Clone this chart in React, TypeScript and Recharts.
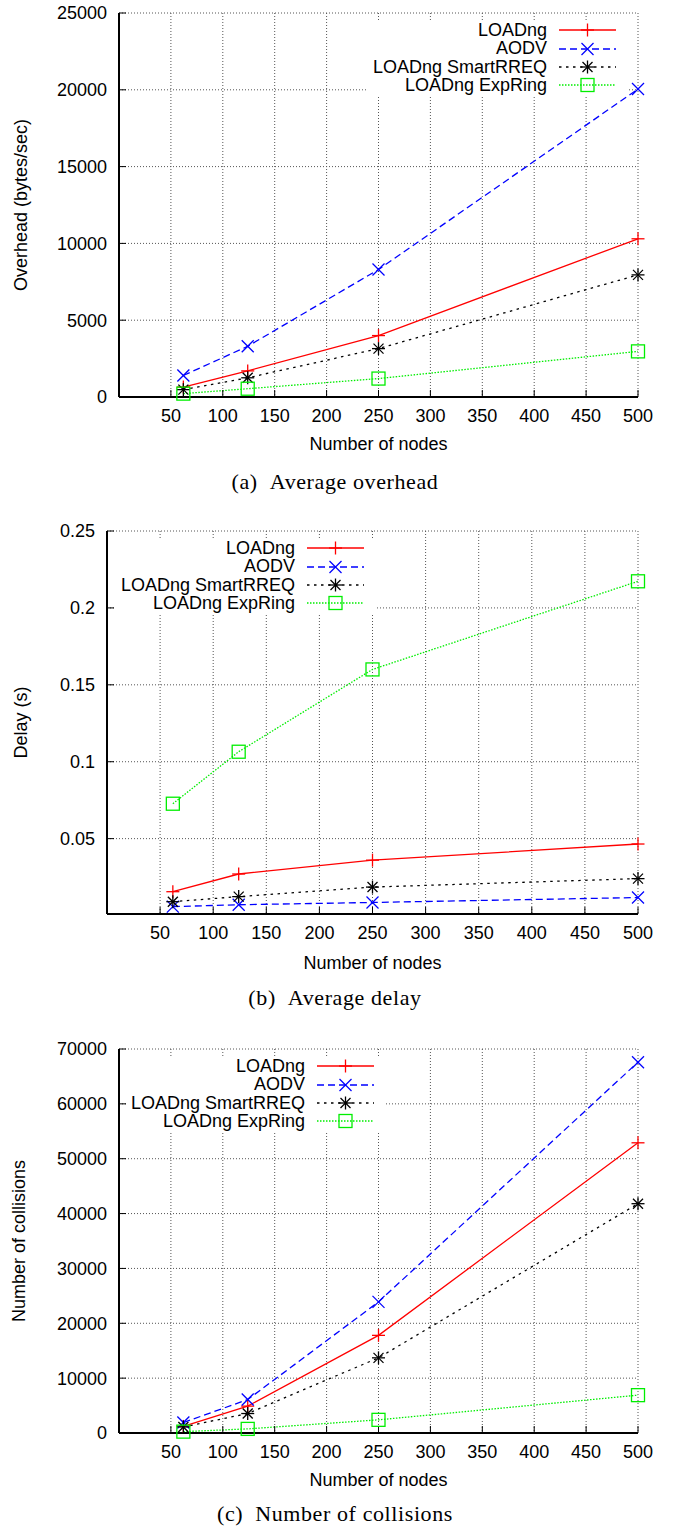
import React from 'react'
import { LineChart, Line, XAxis, YAxis, CartesianGrid, Legend } from 'recharts'

// x positions (number of nodes) of the measured points
const nodes = [62, 124, 250, 500]
const xTicks = [50, 100, 150, 200, 250, 300, 350, 400, 450, 500]

// (a) average overhead, bytes/sec
const overheadLoadng = [650, 1700, 4000, 10300]
const overheadAodv = [1400, 3300, 8300, 20050]
const overheadSmart = [480, 1250, 3150, 7950]
const overheadExpRing = [220, 540, 1200, 2970]
const overheadTicks = [0, 5000, 10000, 15000, 20000, 25000]

// (b) average delay, s
const delayLoadng = [0.0155, 0.027, 0.036, 0.0465]
const delayAodv = [0.0058, 0.007, 0.0085, 0.0117]
const delaySmart = [0.009, 0.0123, 0.0185, 0.024]
const delayExpRing = [0.0727, 0.1065, 0.16, 0.2173]
const delayTicks = [0.05, 0.1, 0.15, 0.2, 0.25]

// (c) number of collisions
const collLoadng = [1200, 4900, 17800, 52900]
const collAodv = [1900, 6100, 23900, 67600]
const collSmart = [1100, 3550, 13700, 41800]
const collExpRing = [250, 750, 2400, 6900]
const collTicks = [0, 10000, 20000, 30000, 40000, 50000, 60000, 70000]

const SANS = '"Liberation Sans", Arial, sans-serif'
const SERIF = '"Liberation Serif", "Times New Roman", serif'

type Kind = 'plus' | 'cross' | 'star' | 'square'

const SERIES = [
  { key: 'loadng', name: 'LOADng', color: '#ff0000', dash: undefined as string | undefined, kind: 'plus' as Kind },
  { key: 'aodv', name: 'AODV', color: '#0000ff', dash: '7 4', kind: 'cross' as Kind },
  { key: 'smart', name: 'LOADng SmartRREQ', color: '#000000', dash: '2.5 4.5', kind: 'star' as Kind },
  { key: 'exp', name: 'LOADng ExpRing', color: '#00ee00', dash: '1.5 1.5', kind: 'square' as Kind },
]

function buildRows(a: number[], b: number[], c: number[], d: number[]) {
  return nodes.map((n, i) => ({ nodes: n, loadng: a[i], aodv: b[i], smart: c[i], exp: d[i] }))
}

const overheadData = buildRows(overheadLoadng, overheadAodv, overheadSmart, overheadExpRing)
const delayData = buildRows(delayLoadng, delayAodv, delaySmart, delayExpRing)
const collData = buildRows(collLoadng, collAodv, collSmart, collExpRing)

function Marker({ cx, cy, kind, color }: { cx: number; cy: number; kind: Kind; color: string }) {
  if (cx == null || cy == null) return <g />
  const s = 6.5
  const d = 6
  if (kind === 'plus') {
    return (
      <g stroke={color} strokeWidth={1.3}>
        <line x1={cx - s} y1={cy} x2={cx + s} y2={cy} />
        <line x1={cx} y1={cy - s} x2={cx} y2={cy + s} />
      </g>
    )
  }
  if (kind === 'cross') {
    return (
      <g stroke={color} strokeWidth={1.3}>
        <line x1={cx - d} y1={cy - d} x2={cx + d} y2={cy + d} />
        <line x1={cx - d} y1={cy + d} x2={cx + d} y2={cy - d} />
      </g>
    )
  }
  if (kind === 'star') {
    return (
      <g stroke={color} strokeWidth={1.3}>
        <line x1={cx - s} y1={cy} x2={cx + s} y2={cy} />
        <line x1={cx} y1={cy - s} x2={cx} y2={cy + s} />
        <line x1={cx - 5} y1={cy - 5} x2={cx + 5} y2={cy + 5} />
        <line x1={cx - 5} y1={cy + 5} x2={cx + 5} y2={cy - 5} />
      </g>
    )
  }
  return <rect x={cx - s} y={cy - s} width={2 * s} height={2 * s} fill="none" stroke={color} strokeWidth={1.3} />
}

function KeyBox() {
  return (
    <div style={{ background: '#fff', padding: '0 11px 0 2px', fontFamily: SANS, fontSize: 18, color: '#000' }}>
      {SERIES.map(s => (
        <div key={s.key} style={{ display: 'flex', alignItems: 'center', height: 18.4 }}>
          <span style={{ width: 177, textAlign: 'right', lineHeight: '18.4px', whiteSpace: 'nowrap' }}>{s.name}</span>
          <svg width={57} height={18} style={{ marginLeft: 12, display: 'block' }}>
            <line x1={0} y1={9} x2={57} y2={9} stroke={s.color} strokeWidth={1.3} strokeDasharray={s.dash} />
            <Marker cx={28.5} cy={9} kind={s.kind} color={s.color} />
          </svg>
        </div>
      ))}
    </div>
  )
}

interface PanelProps {
  top: number
  height: number
  plotTop: number
  plotLeft: number
  plotBottom: number
  data: any[]
  yDomain: [number, number]
  yTicks: number[]
  yTitle: string
  yTitleX: number
  xTitleOffset: number
  keyLeft: number
  keyTop: number
}

function Panel(p: PanelProps) {
  const tickStyle = { fill: '#000', fontSize: 18, fontFamily: SANS }
  const border = { stroke: '#000', strokeWidth: 2 }
  const tl = { stroke: '#000', strokeWidth: 1 }
  return (
    <div style={{ position: 'absolute', left: 0, top: p.top }}>
      <LineChart
        width={674}
        height={p.height}
        data={p.data}
        margin={{ top: p.plotTop, right: 36, left: 0, bottom: 0 }}
      >
        <CartesianGrid stroke="#555" strokeDasharray="1 2" />
        <XAxis
          dataKey="nodes"
          type="number"
          domain={[0, 500]}
          ticks={xTicks}
          interval={0}
          height={p.height - p.plotBottom}
          tickSize={-7}
          tickMargin={19}
          tick={tickStyle}
          tickLine={tl}
          axisLine={border}
          label={{ value: 'Number of nodes', position: 'insideTop', offset: p.xTitleOffset, fill: '#000', fontSize: 18, fontFamily: SANS }}
        />
        <XAxis
          xAxisId="top"
          orientation="top"
          dataKey="nodes"
          type="number"
          domain={[0, 500]}
          ticks={xTicks}
          interval={0}
          height={0}
          tickSize={-7}
          tick={false}
          tickLine={tl}
          axisLine={border}
        />
        <YAxis
          type="number"
          domain={p.yDomain}
          ticks={p.yTicks}
          interval={0}
          width={p.plotLeft}
          tickSize={-7}
          tickMargin={19}
          tick={tickStyle}
          tickLine={tl}
          axisLine={border}
          label={{ value: p.yTitle, angle: -90, position: 'insideLeft', offset: p.yTitleX, fill: '#000', fontSize: 18, fontFamily: SANS, style: { textAnchor: 'middle' } }}
        />
        <YAxis
          yAxisId="right"
          orientation="right"
          type="number"
          domain={p.yDomain}
          ticks={p.yTicks}
          interval={0}
          width={0}
          tickSize={-7}
          tick={false}
          tickLine={tl}
          axisLine={border}
        />
        {SERIES.map(s => (
          <Line
            key={s.key}
            dataKey={s.key}
            name={s.name}
            type="linear"
            stroke={s.color}
            strokeWidth={1.3}
            strokeDasharray={s.dash}
            activeDot={false}
            isAnimationActive={false}
            dot={(dp: any) => <Marker key={`${s.key}-${dp.index}`} cx={dp.cx} cy={dp.cy} kind={s.kind} color={s.color} />}
          />
        ))}
        <Legend
          layout="horizontal"
          align="center"
          verticalAlign="middle"
          content={() => <KeyBox />}
          wrapperStyle={{ left: p.keyLeft, top: p.keyTop, width: 'auto', height: 'auto' }}
        />
      </LineChart>
    </div>
  )
}

function Caption({ y, label, text }: { y: number; label: string; text: string }) {
  return (
    <div
      style={{
        position: 'absolute',
        left: 0,
        width: 670,
        top: y - 12,
        height: 24,
        lineHeight: '24px',
        textAlign: 'center',
        fontFamily: SERIF,
        fontSize: 22,
        letterSpacing: 0.6,
        color: '#000',
      }}
    >
      <span style={{ marginRight: 12 }}>{label}</span>
      {text}
    </div>
  )
}

export default function App() {
  return (
    <div style={{ position: 'absolute', left: 0, top: 0, width: 674, height: 1528, background: '#fff' }}>
      <Panel
        top={0}
        height={470}
        plotTop={13}
        plotLeft={119}
        plotBottom={397}
        data={overheadData}
        yDomain={[0, 25000]}
        yTicks={overheadTicks}
        yTitle="Overhead (bytes/sec)"
        yTitleX={20.5}
        xTitleOffset={40}
        keyLeft={368}
        keyTop={21}
      />
      <Caption y={482} label="(a)" text="Average overhead" />
      <Panel
        top={500}
        height={490}
        plotTop={31}
        plotLeft={107}
        plotBottom={414}
        data={delayData}
        yDomain={[0.001, 0.25]}
        yTicks={delayTicks}
        yTitle="Delay (s)"
        yTitleX={20.5}
        xTitleOffset={42}
        keyLeft={116}
        keyTop={39}
      />
      <Caption y={998} label="(b)" text="Average delay" />
      <Panel
        top={1020}
        height={490}
        plotTop={29}
        plotLeft={119}
        plotBottom={413}
        data={collData}
        yDomain={[0, 70000]}
        yTicks={collTicks}
        yTitle="Number of collisions"
        yTitleX={19}
        xTitleOffset={40}
        keyLeft={126}
        keyTop={37}
      />
      <Caption y={1514} label="(c)" text="Number of collisions" />
    </div>
  )
}
